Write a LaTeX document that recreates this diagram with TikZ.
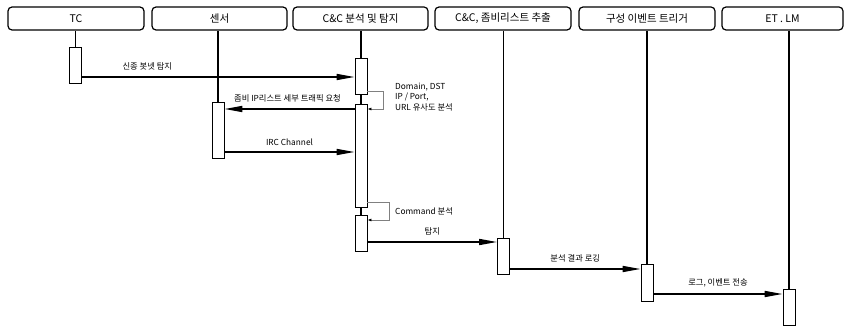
\documentclass[tikz,border=0pt]{standalone}
\usepackage{fontspec}
\setmainfont{Noto Sans CJK KR}
\usetikzlibrary{arrows.meta}
\begin{document}
\begin{tikzpicture}[x=1pt,y=-1pt,
  hdr/.style={draw,line width=1.2pt,rounded corners=4pt,minimum height=23pt,inner sep=0pt,font=\fontsize{10.5}{12}\selectfont},
  act/.style={draw,line width=0.8pt,fill=white,minimum width=12pt,inner sep=0pt},
  life/.style={line width=1.3pt},
  msg/.style={line width=1.6pt,-{Triangle[length=18pt,width=6pt]}},
  selfmsg/.style={draw=gray,line width=0.8pt,-{Latex[length=4pt,width=3pt,black]}},
  lbl/.style={font=\fontsize{8.3}{10.5}\selectfont,inner sep=0pt}]
\useasboundingbox (0,0) rectangle (846,329);
% headers
\node[hdr,minimum width=136pt] (hTC) at (76,18.5) {TC};
\node[hdr,minimum width=135pt] (hSN) at (219.5,18.5) {센서};
\node[hdr,minimum width=135pt] (hCC) at (360.5,18.5) {C\&C 분석 및 탐지};
\node[hdr,minimum width=136pt] (hZB) at (503,18.5) {C\&C, 좀비리스트 추출};
\node[hdr,minimum width=136pt] (hEV) at (647,18.5) {구성 이벤트 트리거};
\node[hdr,minimum width=121pt] (hET) at (782.5,18.5) {ET . LM};
% activations
\node[act,minimum height=36pt] (aTC) at (75.5,65) {};
\node[act,minimum height=36pt] (aC1) at (361,76) {};
\node[act,minimum height=103pt] (aC2) at (361,155.5) {};
\node[act,minimum height=36pt] (aC3) at (361,233) {};
\node[act,minimum height=56pt] (aSN) at (218,130) {};
\node[act,minimum height=36pt] (aZB) at (503.5,256) {};
\node[act,minimum height=37pt] (aEV) at (647,282.5) {};
\node[act,minimum height=36pt] (aET) at (789,307) {};
% lifelines
\draw[life] (aTC.north) -- (aTC.north |- hTC.south);
\draw[life] (aSN.north) -- (aSN.north |- hSN.south);
\draw[life] (aC1.north) -- (aC1.north |- hCC.south);
\draw[life] (aC1.south) -- (aC2.north);
\draw[life] (aC2.south) -- (aC3.north);
\draw[life] (aZB.north) -- (aZB.north |- hZB.south);
\draw[life] (aEV.north) -- (aEV.north |- hEV.south);
\draw[life] (aET.north) -- (aET.north |- hET.south);
% messages
\draw[msg] (aTC.east |- 0,77) -- node[lbl,above=6pt,pos=0.24] {신종 봇넷 탐지} (aC1.west |- 0,77);
\draw[msg] (aC2.west |- 0,109) -- node[lbl,above=6pt,xshift=-2pt] {좀비 IP리스트 세부 트래픽 요청} (aSN.east |- 0,109);
\draw[msg] (aSN.east |- 0,152) -- node[lbl,above=6pt] {IRC Channel} (aC2.west |- 0,152);
\draw[msg] (aC3.east |- 0,242) -- node[lbl,above=6pt] {탐지} (aZB.west |- 0,242);
\draw[msg] (aZB.east |- 0,269) -- node[lbl,above=6pt] {분석 결과 로깅} (aEV.west |- 0,269);
\draw[msg] (aEV.east |- 0,294) -- node[lbl,above=6pt] {로그, 이벤트 전송} (aET.west |- 0,294);
% self messages
\coordinate (s1) at (383,91);
\coordinate (s2) at (383,109);
\draw[selfmsg] (aC1.east |- s1) -- (s1) -- (s2) -- (aC2.east |- s2);
\node[lbl,anchor=north west,align=left,font=\fontsize{8.3}{10.3}\selectfont] (t1) at (395,83) {Domain, DST\\IP / Port,\\URL 유사도 분석};
\coordinate (s3) at (389,202);
\coordinate (s4) at (389,220);
\draw[selfmsg] (aC2.east |- s3) -- (s3) -- (s4) -- (aC3.east |- s4);
\node[lbl,anchor=west] (t2) at (395,211) {Command 분석};
\end{tikzpicture}
\end{document}
